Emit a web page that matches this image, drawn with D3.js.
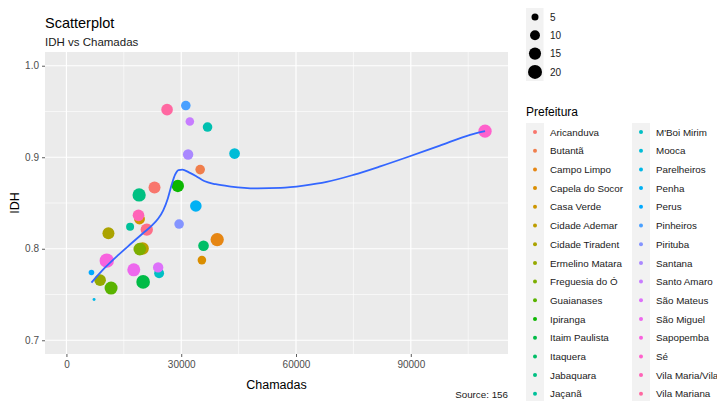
<!DOCTYPE html>
<html><head><meta charset="utf-8">
<script src="https://cdn.jsdelivr.net/npm/d3@7"></script>
<style>
html,body{margin:0;padding:0;background:#fff;overflow:hidden;}
svg{display:block;font-family:"Liberation Sans",Arial,sans-serif;}
</style></head>
<body><svg id="chart" width="717" height="401"></svg>
<script>
// ---- data ----
const prefeituras = ["Aricanduva","Butantã","Campo Limpo","Capela do Socor","Casa Verde","Cidade Ademar","Cidade Tiradent","Ermelino Matara","Freguesia do Ó","Guaianases","Ipiranga","Itaim Paulista","Itaquera","Jabaquara","Jaçanã","Lapa","M'Boi Mirim","Mooca","Parelheiros","Penha","Perus","Pinheiros","Pirituba","Santana","Santo Amaro","São Mateus","São Miguel","Sapopemba","Sé","Vila Maria/Vila","Vila Mariana","Vila Prudente"];
const chamadas = [23020,34950,39400,35400,19100,19900,10980,8800,19170,11670,29110,20040,35830,19000,16640,36880,24220,43940,7220,33820,6540,31200,29450,31800,32250,23970,17600,10540,109400,18830,26300,21000];
const idh = [0.867,0.8865,0.810,0.7876,0.8325,0.8003,0.817,0.7657,0.7996,0.757,0.8686,0.7638,0.8033,0.8588,0.824,0.933,0.7733,0.904,0.7446,0.8467,0.774,0.9565,0.827,0.903,0.939,0.7796,0.777,0.787,0.9285,0.8365,0.952,0.821];
const tamanho = [14.7,9.4,18,7.5,12,16,14.7,13.7,16.4,17.2,15.5,19,11.6,18,6.5,9.4,10,11.6,0.9,13.7,3.2,9.4,9.4,11,7.5,11,17.2,21,18,13.7,13.7,15.5];
const sizeBreaks = [5,10,15,20];
const xTicks = [0,30000,60000,90000];
const yTicks = [0.7,0.8,0.9,1.0];
const smoothX = [6540,10000,13500,17000,20000,22500,24000,25300,26500,27500,28400,29300,30300,32000,34000,36000,39000,43000,50000,56000,62000,68000,75000,82000,89000,97600,105500,109400];
const smoothY = [0.763,0.779,0.793,0.806,0.817,0.826,0.833,0.842,0.855,0.870,0.881,0.886,0.8865,0.8835,0.879,0.874,0.8705,0.868,0.866,0.8665,0.869,0.873,0.8807,0.890,0.900,0.9128,0.9245,0.9285];

// ggplot-like hue palette (polar LUV)
function hueColor(h){
  const L=65,C=100,hr=h*Math.PI/180;
  const U=C*Math.cos(hr),V=C*Math.sin(hr);
  const Xn=95.047,Yn=100,Zn=108.883;
  const den=Xn+15*Yn+3*Zn, un=4*Xn/den, vn=9*Yn/den;
  const Y=Yn*Math.pow((L+16)/116,3);
  const up=U/(13*L)+un, vp=V/(13*L)+vn;
  const X=Y*9*up/(4*vp), Z=Y*(12-3*up-20*vp)/(4*vp);
  const x=X/100,y=Y/100,z=Z/100;
  let r=3.2404542*x-1.5371385*y-0.4985314*z;
  let g=-0.9692660*x+1.8760108*y+0.0415560*z;
  let b=0.0556434*x-0.2040259*y+1.0572252*z;
  const gam=c=>{c=c<=0.0031308?12.92*c:1.055*Math.pow(c,1/2.4)-0.055;return Math.round(Math.max(0,Math.min(1,c))*255);};
  return d3.rgb(gam(r),gam(g),gam(b)).formatHex();
}
const n = prefeituras.length;
const colors = prefeituras.map((d,i)=>hueColor(15+i*360/n));
const color = d3.scaleOrdinal().domain(prefeituras).range(colors);

const svg = d3.select("#chart");
const P = {l:45, r:508, t:52, b:354};
const x = d3.scaleLinear().domain([-5600,115400]).range([P.l,P.r]);
const y = d3.scaleLinear().domain([0.685,1.015]).range([P.b,P.t]);
const rScale = d3.scaleSqrt().domain([0,20]).range([0,7]);

// panel
svg.append("rect").attr("x",P.l).attr("y",P.t).attr("width",P.r-P.l).attr("height",P.b-P.t).attr("fill","#EBEBEB");
const xMinor = [15000,45000,75000,105000];
const yMinor = [0.75,0.85,0.95];
const g = svg.append("g");
xMinor.forEach(v=>g.append("line").attr("x1",x(v)).attr("x2",x(v)).attr("y1",P.t).attr("y2",P.b).attr("stroke","#fff").attr("stroke-width",0.6));
yMinor.forEach(v=>g.append("line").attr("y1",y(v)).attr("y2",y(v)).attr("x1",P.l).attr("x2",P.r).attr("stroke","#fff").attr("stroke-width",0.6));
xTicks.forEach(v=>g.append("line").attr("x1",x(v)).attr("x2",x(v)).attr("y1",P.t).attr("y2",P.b).attr("stroke","#fff").attr("stroke-width",1.2));
yTicks.forEach(v=>g.append("line").attr("y1",y(v)).attr("y2",y(v)).attr("x1",P.l).attr("x2",P.r).attr("stroke","#fff").attr("stroke-width",1.2));

// axes
const xAxis = svg.append("g").attr("transform",`translate(0,${P.b})`)
  .call(d3.axisBottom(x).tickValues(xTicks).tickFormat(d3.format("d")).tickSize(3).tickPadding(4));
const yAxis = svg.append("g").attr("transform",`translate(${P.l},0)`)
  .call(d3.axisLeft(y).tickValues(yTicks).tickFormat(d3.format(".1f")).tickSize(3).tickPadding(3));
[xAxis,yAxis].forEach(a=>{
  a.select(".domain").remove();
  a.selectAll(".tick line").attr("stroke","#333").attr("stroke-width",0.8);
  a.selectAll(".tick text").attr("fill","#4D4D4D").style("font-size","10px").style("font-family","Liberation Sans, Arial, sans-serif");
});

// points
const pts = prefeituras.map((p,i)=>({p,x:chamadas[i],y:idh[i],s:tamanho[i]}));
svg.append("g").selectAll("circle").data(pts).join("circle")
  .attr("cx",d=>x(d.x)).attr("cy",d=>y(d.y)).attr("r",d=>rScale(d.s)).attr("fill",d=>color(d.p));

// smooth line
const line = d3.line().x(d=>x(d[0])).y(d=>y(d[1])).curve(d3.curveMonotoneX);
svg.append("path").datum(smoothX.map((v,i)=>[v,smoothY[i]])).attr("d",line)
  .attr("fill","none").attr("stroke","#3366FF").attr("stroke-width",1.8);

// titles
svg.append("text").attr("x",45).attr("y",28).text("Scatterplot").style("font-size","14.5px").attr("fill","#000");
svg.append("text").attr("x",45).attr("y",46).text("IDH vs Chamadas").style("font-size","11.5px").attr("fill","#1a1a1a");
svg.append("text").attr("x",(P.l+P.r)/2).attr("y",389).attr("text-anchor","middle").text("Chamadas").style("font-size","12.5px");
svg.append("text").attr("transform",`translate(19,${(P.t+P.b)/2}) rotate(-90)`).attr("text-anchor","middle").text("IDH").style("font-size","12.5px");
svg.append("text").attr("x",P.r).attr("y",398).attr("text-anchor","end").text("Source: 156").style("font-size","9.8px").attr("fill","#1a1a1a");

// size legend
const sl = svg.append("g");
sl.append("rect").attr("x",526).attr("y",8).attr("width",17.5).attr("height",73).attr("fill","#F2F2F2");
sizeBreaks.forEach((v,i)=>{
  const cy = 17 + i*18.3;
  sl.append("circle").attr("cx",535).attr("cy",cy).attr("r",rScale(v)).attr("fill","#000");
  sl.append("text").attr("x",550).attr("y",cy+3.6).text(v).style("font-size","10px").attr("fill","#1a1a1a");
});

// colour legend (bottom row falls outside the picture, as in the original)
const cl = svg.append("g");
cl.append("text").attr("x",526).attr("y",116).text("Prefeitura").style("font-size","12px").attr("fill","#000");
const perCol = Math.ceil(n/2), rowH = 18.7, y0 = 132;
const colX = [535, 641];
colX.forEach(cx=>cl.append("rect").attr("x",cx-9).attr("y",y0-9).attr("width",18).attr("height",rowH*perCol).attr("fill","#F2F2F2"));
prefeituras.forEach((p,i)=>{
  const c = Math.floor(i/perCol), r = i%perCol;
  const cy = y0 + r*rowH;
  if (cy > 401) return;
  cl.append("circle").attr("cx",colX[c]).attr("cy",cy).attr("r",2).attr("fill",color(p));
  cl.append("text").attr("x",colX[c]+15).attr("y",cy+3.6).text(p).style("font-size","9.8px").attr("fill","#1a1a1a");
});
</script></body></html>
